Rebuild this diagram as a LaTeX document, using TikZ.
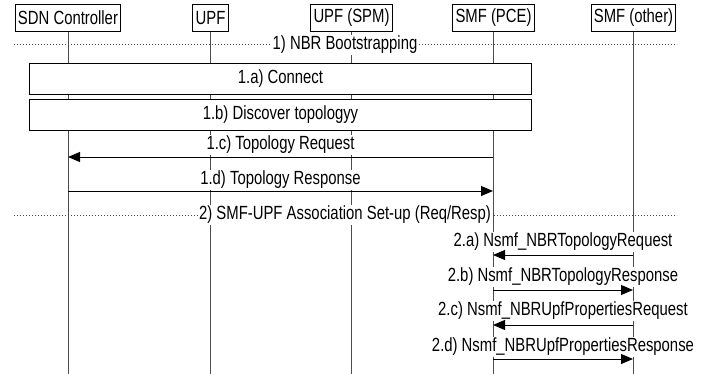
\documentclass[tikz,border=0pt]{standalone}
\usepackage{fontspec}
\setmainfont{Liberation Sans}[FakeStretch=0.78]
\usetikzlibrary{arrows.meta}
\begin{document}
\begin{tikzpicture}[x=0.75pt,y=-0.75pt,
  font=\fontsize{14.3}{16}\selectfont,
  actor/.style={draw, line width=0.75pt, minimum height=20.5pt, inner xsep=2pt, inner ysep=0pt},
  life/.style={draw=black!70, line width=0.75pt},
  sep/.style={draw=black!70, line width=0.75pt, dash pattern=on 0.9pt off 1.35pt},
  seplabel/.style={fill=white, inner sep=1pt},
  msg/.style={line width=0.75pt, -{Triangle[length=9pt,width=7.5pt]}},
  msglabel/.style={fill=white, inner xsep=1pt, inner ysep=0.5pt},
  stepbox/.style={draw, fill=white, line width=0.75pt, minimum height=23pt, inner sep=0pt}]
\useasboundingbox (0,0) rectangle (709,374);

% actors
\node[actor] (sdn) at (68,18) {SDN Controller};
\node[actor] (upf) at (210.5,18) {UPF};
\node[actor] (spm) at (351.5,18) {UPF (SPM)};
\node[actor] (pce) at (493.5,18) {SMF (PCE)};
\node[actor] (oth) at (633.5,18) {SMF (other)};

% lifeline ends
\coordinate (sdnE) at (68,374);
\coordinate (upfE) at (210,374);
\coordinate (spmE) at (351,374);
\coordinate (pceE) at (493,374);
\coordinate (othE) at (633,374);
\draw[life] (sdn.south -| sdnE) -- (sdnE);
\draw[life] (upf.south -| upfE) -- (upfE);
\draw[life] (spm.south -| spmE) -- (spmE);
\draw[life] (pce.south -| pceE) -- (pceE);
\draw[life] (oth.south -| othE) -- (othE);

% separator 1
\coordinate (s1a) at (14,45);
\coordinate (s1b) at (677,45);
\draw[sep] (s1a) -- (s1b);
\node[seplabel] (s1l) at (345,45) {1) NBR Bootstrapping};

% boxes
\node[stepbox, minimum width=376pt] (b1) at (280.5,79) {1.a) Connect};
\node[stepbox, minimum width=376pt] (b2) at (280.5,115) {1.b) Discover topologyy};

% 1.c
\coordinate (c1) at (493,157);
\coordinate (c2) at (68,157);
\node[msglabel] (l1c) at (280.5,145) {1.c) Topology Request};
\draw[msg] (c1) -- (c2);

% 1.d
\coordinate (d1) at (68,191);
\coordinate (d2) at (493,191);
\node[msglabel] (l1d) at (280.5,180) {1.d) Topology Response};
\draw[msg] (d1) -- (d2);

% separator 2
\coordinate (s2a) at (14,215);
\coordinate (s2b) at (677,215);
\draw[sep] (s2a) -- (s2b);
\node[seplabel] (s2l) at (345,215) {2) SMF-UPF Association Set-up (Req/Resp)};

% 2.a
\coordinate (a1) at (633,255);
\coordinate (a2) at (493,255);
\node[msglabel] (l2a) at (563,242) {2.a) Nsmf\_NBRTopologyRequest};
\draw[msg] (a1) -- (a2);

% 2.b
\coordinate (bb1) at (493,290);
\coordinate (bb2) at (633,290);
\node[msglabel] (l2b) at (563,277) {2.b) Nsmf\_NBRTopologyResponse};
\draw[msg] (bb1) -- (bb2);

% 2.c
\coordinate (cc1) at (633,325);
\coordinate (cc2) at (493,325);
\node[msglabel] (l2c) at (563,311) {2.c) Nsmf\_NBRUpfPropertiesRequest};
\draw[msg] (cc1) -- (cc2);

% 2.d
\coordinate (dd1) at (493,359);
\coordinate (dd2) at (633,359);
\node[msglabel] (l2d) at (563,347) {2.d) Nsmf\_NBRUpfPropertiesResponse};
\draw[msg] (dd1) -- (dd2);
\end{tikzpicture}
\end{document}
